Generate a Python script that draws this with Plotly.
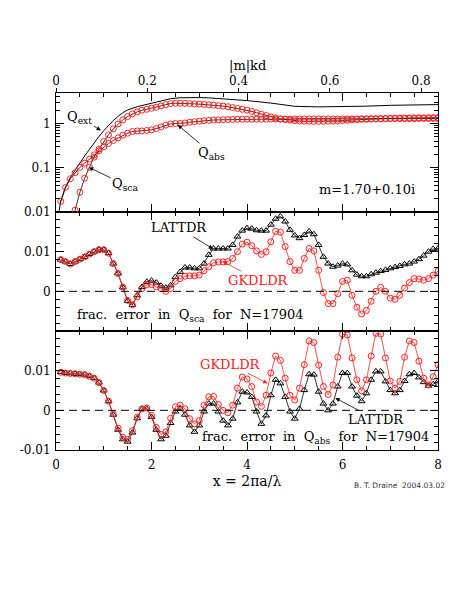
import math

import plotly.graph_objects as go

# size parameter x = 2*pi*a/lambda, sampled every 0.1
X = [0.1, 0.2, 0.3, 0.4, 0.5, 0.6, 0.7, 0.8, 0.9, 1.0,
     1.1, 1.2, 1.3, 1.4, 1.5, 1.6, 1.7, 1.8, 1.9, 2.0,
     2.1, 2.2, 2.3, 2.4, 2.5, 2.6, 2.7, 2.8, 2.9, 3.0,
     3.1, 3.2, 3.3, 3.4, 3.5, 3.6, 3.7, 3.8, 3.9, 4.0,
     4.1, 4.2, 4.3, 4.4, 4.5, 4.6, 4.7, 4.8, 4.9, 5.0,
     5.1, 5.2, 5.3, 5.4, 5.5, 5.6, 5.7, 5.8, 5.9, 6.0,
     6.1, 6.2, 6.3, 6.4, 6.5, 6.6, 6.7, 6.8, 6.9, 7.0,
     7.1, 7.2, 7.3, 7.4, 7.5, 7.6, 7.7, 7.8, 7.9, 8.0]

# top panel: efficiency factors (log scale)
QEXT_X = [0.05, 0.1, 0.2, 0.3, 0.4, 0.5, 0.6, 0.7, 0.8, 0.9, 1.0, 1.1, 1.2, 1.3,
          1.4, 1.5, 1.6, 1.7, 1.8, 1.9, 2.0, 2.2, 2.4, 2.6, 2.8, 3.0, 3.2, 3.4,
          3.6, 3.8, 4.0, 4.5, 5.0, 5.5, 6.0, 6.5, 7.0, 7.5, 8.0]
QEXT = [0.0085, 0.0175, 0.037, 0.06, 0.088, 0.13, 0.185, 0.26, 0.37, 0.51, 0.69,
        0.91, 1.17, 1.45, 1.76, 2.03, 2.25, 2.4, 2.55, 2.7, 2.9, 3.3, 3.65, 3.82,
        3.87, 3.86, 3.8, 3.7, 3.55, 3.42, 3.3, 2.9, 2.45, 2.38, 2.4, 2.47, 2.58,
        2.65, 2.68]
QSCA = [0.00004, 0.0007, 0.0034, 0.011, 0.028, 0.058, 0.103, 0.174, 0.264, 0.393,
        0.555, 0.758, 0.98, 1.21, 1.44, 1.65, 1.83, 2.0, 2.1, 2.22,
        2.33, 2.5, 2.68, 2.83, 2.87, 2.87, 2.85, 2.82, 2.78, 2.74,
        2.7, 2.65, 2.6, 2.54, 2.48, 2.4, 2.3, 2.2, 2.1, 2.01,
        1.88, 1.75, 1.62, 1.51, 1.41, 1.34, 1.27, 1.23, 1.19, 1.16,
        1.14, 1.13, 1.13, 1.12, 1.12, 1.12, 1.13, 1.14, 1.15, 1.17,
        1.19, 1.21, 1.23, 1.24, 1.25, 1.27, 1.28, 1.29, 1.3, 1.31,
        1.32, 1.33, 1.33, 1.34, 1.34, 1.35, 1.35, 1.36, 1.36, 1.36]
QABS = [0.0174, 0.036, 0.0565, 0.077, 0.102, 0.127, 0.157, 0.196, 0.242, 0.298,
        0.354, 0.414, 0.475, 0.546, 0.605, 0.66, 0.68, 0.68, 0.695, 0.72,
        0.77, 0.84, 0.92, 0.98, 1.0, 1.0, 1.03, 1.07, 1.1, 1.13,
        1.16, 1.18, 1.2, 1.21, 1.22, 1.23, 1.24, 1.25, 1.25, 1.25,
        1.25, 1.25, 1.25, 1.25, 1.26, 1.26, 1.26, 1.26, 1.26, 1.27,
        1.27, 1.27, 1.27, 1.27, 1.27, 1.27, 1.27, 1.27, 1.27, 1.27,
        1.27, 1.27, 1.27, 1.28, 1.28, 1.28, 1.28, 1.28, 1.28, 1.29,
        1.29, 1.29, 1.29, 1.29, 1.29, 1.3, 1.3, 1.3, 1.3, 1.3]

# middle panel: fractional error in Q_sca
SCA_LATTDR = [0.0080, 0.0075, 0.0069, 0.0075, 0.0081, 0.0087, 0.0094, 0.0100, 0.0105, 0.0105,
              0.0096, 0.0070, 0.0045, 0.0010, -0.0024, -0.0034, -0.0010, 0.0011, 0.0024, 0.0027,
              0.0022, 0.0014, 0.0009, 0.0015, 0.0036, 0.0049, 0.0060, 0.0060, 0.0058, 0.0058,
              0.0070, 0.0092, 0.0108, 0.0108, 0.0108, 0.0108, 0.0117, 0.0138, 0.0153, 0.0159,
              0.0158, 0.0154, 0.0153, 0.0153, 0.0168, 0.0183, 0.0189, 0.0176, 0.0155, 0.0141,
              0.0134, 0.0142, 0.0151, 0.0144, 0.0117, 0.0087, 0.0070, 0.0062, 0.0065, 0.0070,
              0.0068, 0.0053, 0.0042, 0.0038, 0.0038, 0.0043, 0.0047, 0.0051, 0.0054, 0.0058,
              0.0061, 0.0064, 0.0068, 0.0070, 0.0075, 0.0081, 0.0090, 0.0100, 0.0107, 0.0108]
SCA_GKDLDR = [0.0080, 0.0075, 0.0069, 0.0075, 0.0081, 0.0087, 0.0094, 0.0100, 0.0105, 0.0105,
              0.0096, 0.0070, 0.0045, 0.0011, -0.0023, -0.0034, -0.0014, 0.0007, 0.0017, 0.0017,
              0.0011, 0.0007, 0.0000, 0.0007, 0.0025, 0.0032, 0.0038, 0.0039, 0.0039, 0.0041,
              0.0052, 0.0062, 0.0072, 0.0074, 0.0074, 0.0075, 0.0083, 0.0100, 0.0119, 0.0124,
              0.0115, 0.0102, 0.0093, 0.0100, 0.0125, 0.0151, 0.0149, 0.0113, 0.0075, 0.0053,
              0.0053, 0.0083, 0.0108, 0.0102, 0.0053, -0.0003, -0.0031, -0.0031, -0.0006, 0.0025,
              0.0028, -0.0010, -0.0040, -0.0057, -0.0048, -0.0025, 0.0000, 0.0010, 0.0000, -0.0017,
              -0.0020, -0.0010, 0.0008, 0.0022, 0.0032, 0.0031, 0.0028, 0.0032, 0.0041, 0.0051]

# bottom panel: fractional error in Q_abs
ABS_LATTDR = [0.0096, 0.0094, 0.0093, 0.0092, 0.0091, 0.0090, 0.0086, 0.0081, 0.0070, 0.0050,
              0.0023, -0.0011, -0.0049, -0.0073, -0.0079, -0.0056, -0.0020, 0.0003, 0.0004, -0.0017,
              -0.0049, -0.0073, -0.0064, -0.0032, -0.0003, 0.0004, -0.0011, -0.0038, -0.0054, -0.0038,
              -0.0003, 0.0017, 0.0017, -0.0003, -0.0026, -0.0038, -0.0021, 0.0020, 0.0047, 0.0045,
              0.0034, -0.0003, -0.0034, -0.0013, 0.0038, 0.0077, 0.0068, 0.0034, -0.0003, -0.0021,
              0.0004, 0.0051, 0.0091, 0.0090, 0.0047, 0.0017, 0.0000, 0.0017, 0.0060, 0.0094,
              0.0094, 0.0060, 0.0037, 0.0023, 0.0043, 0.0077, 0.0098, 0.0098, 0.0073, 0.0051,
              0.0043, 0.0051, 0.0074, 0.0091, 0.0094, 0.0083, 0.0071, 0.0062, 0.0066, 0.0073]
ABS_GKDLDR = [0.0096, 0.0094, 0.0093, 0.0092, 0.0091, 0.0090, 0.0086, 0.0081, 0.0070, 0.0050,
              0.0023, -0.0009, -0.0045, -0.0068, -0.0073, -0.0051, -0.0017, 0.0004, 0.0006, -0.0013,
              -0.0043, -0.0061, -0.0054, -0.0020, 0.0009, 0.0013, 0.0004, -0.0021, -0.0034, -0.0026,
              0.0013, 0.0034, 0.0035, 0.0015, 0.0000, -0.0006, 0.0013, 0.0056, 0.0084, 0.0079,
              0.0060, 0.0021, 0.0010, 0.0038, 0.0094, 0.0137, 0.0126, 0.0081, 0.0038, 0.0026,
              0.0056, 0.0115, 0.0175, 0.0171, 0.0114, 0.0060, 0.0040, 0.0064, 0.0134, 0.0192,
              0.0190, 0.0132, 0.0077, 0.0049, 0.0077, 0.0137, 0.0194, 0.0192, 0.0132, 0.0074,
              0.0056, 0.0073, 0.0134, 0.0175, 0.0171, 0.0124, 0.0081, 0.0064, 0.0085, 0.0115]

MKD_MAX = 0.837  # |m|kd at x = 8 for N = 17904

SERIF = "DejaVu Serif"
RED = "#ff2020"

fig = go.Figure()

# --- top panel ---
fig.add_trace(go.Scatter(x=QEXT_X, y=QEXT, mode="lines", line=dict(color="black", width=1),
                         xaxis="x3", yaxis="y3"))
for q in (QSCA, QABS):
    fig.add_trace(go.Scatter(
        x=X, y=q, mode="lines+markers", line=dict(color="black", width=0.8),
        marker=dict(symbol="circle-open", size=6, color=RED, line=dict(width=1)),
        xaxis="x3", yaxis="y3"))
# empty trace so the |m|kd axis along the top gets drawn
fig.add_trace(go.Scatter(x=[], y=[], mode="none", xaxis="x4", yaxis="y3", hoverinfo="skip"))

# --- middle + bottom panels ---
for ax, latt, gkd in (("2", SCA_LATTDR, SCA_GKDLDR), ("", ABS_LATTDR, ABS_GKDLDR)):
    fig.add_trace(go.Scatter(
        x=X, y=latt, mode="lines+markers", line=dict(color="black", width=0.8),
        marker=dict(symbol="triangle-up-open", size=6, color="black", line=dict(width=1)),
        xaxis="x" + ax, yaxis="y" + ax))
    fig.add_trace(go.Scatter(
        x=X, y=gkd, mode="lines+markers", line=dict(color=RED, width=0.8),
        marker=dict(symbol="circle-open", size=6, color=RED, line=dict(width=1)),
        xaxis="x" + ax, yaxis="y" + ax))
    fig.add_shape(type="line", xref=f"x{ax} domain", yref="y" + ax, x0=0, x1=1, y0=0, y1=0,
                  line=dict(color="black", width=1, dash="8px,5px"))

common = dict(ticks="inside", ticklen=8, tickwidth=1, tickcolor="black", showline=True,
              linecolor="black", linewidth=1, showgrid=False, zeroline=False,
              tickfont=dict(family=SERIF, size=12, color="black"))
xminor = dict(ticks="inside", ticklen=4, tickcolor="black", tickmode="linear", tick0=0, dtick=0.5)
yminor = dict(ticks="inside", ticklen=4, tickcolor="black", tickmode="linear", tick0=0, dtick=0.002)
logminor = dict(ticks="inside", ticklen=4, tickcolor="black", tickmode="array",
                tickvals=[0.02, 0.03, 0.04, 0.05, 0.06, 0.07, 0.08, 0.09,
                          0.2, 0.3, 0.4, 0.5, 0.6, 0.7, 0.8, 0.9, 2, 3, 4])

# the page body adds an 8px margin, so the figure is 16px smaller than the window
fig.update_layout(
    width=447, height=583, showlegend=False,
    plot_bgcolor="white", paper_bgcolor="white",
    margin=dict(l=46, r=17, t=85, b=141),
    font=dict(family=SERIF, color="black"),
    xaxis=dict(**common, anchor="y", range=[0, 8], tickmode="array", tickvals=[0, 2, 4, 6, 8],
               mirror="ticks", minor=xminor, ticklabelstandoff=4,
               title=dict(text="x = 2πa/λ", font=dict(family=SERIF, size=14), standoff=4)),
    xaxis2=dict(**common, anchor="y2", range=[0, 8], matches="x", showticklabels=False,
                mirror="ticks", minor=xminor),
    xaxis3=dict(**common, anchor="y3", range=[0, 8], matches="x", showticklabels=False,
                mirror="ticks", minor=xminor),
    xaxis4=dict(ticks="outside", ticklen=4, tickwidth=1, tickcolor="black", showline=True,
                linecolor="black", linewidth=1, showgrid=False, zeroline=False,
                tickfont=dict(family=SERIF, size=12, color="black"),
                anchor="y3", overlaying="x3", side="top", range=[0, MKD_MAX],
                tickmode="array", tickvals=[0, 0.2, 0.4, 0.6, 0.8],
                ticktext=["0", "0.2", "0.4", "0.6", "0.8"], ticklabelstandoff=-2),
    yaxis=dict(**common, domain=[0, 1 / 3], range=[-0.01, 0.02], tickmode="array",
               tickvals=[-0.01, 0, 0.01], ticktext=["-0.01", "0", "0.01"], mirror="ticks",
               minor=yminor, ticklabelstandoff=2),
    yaxis2=dict(**common, domain=[1 / 3, 2 / 3], range=[-0.01, 0.02], tickmode="array",
                tickvals=[0, 0.01], ticktext=["0", "0.01"], mirror="ticks", minor=yminor,
                ticklabelstandoff=2),
    yaxis3=dict(**common, domain=[2 / 3, 1], type="log", range=[-2, math.log10(4.9)],
                tickmode="array", tickvals=[0.01, 0.1, 1], ticktext=["0.01", "0.1", "1"],
                mirror="ticks", minor=logminor, ticklabelstandoff=2),
)

# top axis title
fig.add_annotation(text="|m|kd", x=0.5, y=1.078, xref="paper", yref="paper", showarrow=False,
                   xanchor="center", yanchor="middle", font=dict(family=SERIF, size=13))


def label(text, x, y, ax, color="black", anchor="left"):
    fig.add_annotation(text=text, x=x, y=y, xref="x" + ax, yref="y" + ax, showarrow=False,
                       xanchor=anchor, yanchor="middle",
                       font=dict(family=SERIF, size=13, color=color))


def pointer(text, hx, hy, tx, ty, ax, color="black"):
    """Label centred at (tx, ty) with an arrow running to the curve at (hx, hy)."""
    fig.add_annotation(text=text, x=hx, y=hy, ax=tx, ay=ty, xref="x" + ax, yref="y" + ax,
                       axref="x" + ax, ayref="y" + ax, showarrow=True, arrowhead=2,
                       arrowsize=1.1, arrowwidth=0.8, arrowcolor=color,
                       font=dict(family=SERIF, size=13, color=color))


L = math.log10
# top panel (log axis -> annotation y in log10 units)
pointer("Q<sub>ext</sub>", 0.94, L(0.695), 0.5, L(1.39), "3")
pointer("Q<sub>sca</sub>", 0.69, L(0.102), 1.45, L(0.041), "3")
pointer("Q<sub>abs</sub>", 2.55, L(0.93), 3.25, L(0.214), "3")
label("m=1.70+0.10i", 6.52, L(0.033), "3", anchor="center")

# middle panel
pointer("LATTDR", 3.29, 0.0107, 2.57, 0.0160, "2")
pointer("GKDLDR", 3.49, 0.0075, 4.25, 0.0028, "2", color=RED)
label("frac.  error  in  Q<sub>sca</sub>  for  N=17904", 0.39, -0.0061, "2")

# bottom panel
pointer("GKDLDR", 4.43, 0.0068, 3.66, 0.0116, "", color=RED)
pointer("LATTDR", 5.85, 0.0031, 6.70, -0.0023, "")
label("frac.  error  in  Q<sub>abs</sub>  for  N=17904", 3.02, -0.0068, "")

fig.add_annotation(text="B. T. Draine  2004.03.02", x=1.023, y=-0.1, xref="paper",
                   yref="paper", showarrow=False, xanchor="right", yanchor="middle",
                   font=dict(family="DejaVu Sans", size=7.5, color="#333333"))

fig.write_html("out.html")
